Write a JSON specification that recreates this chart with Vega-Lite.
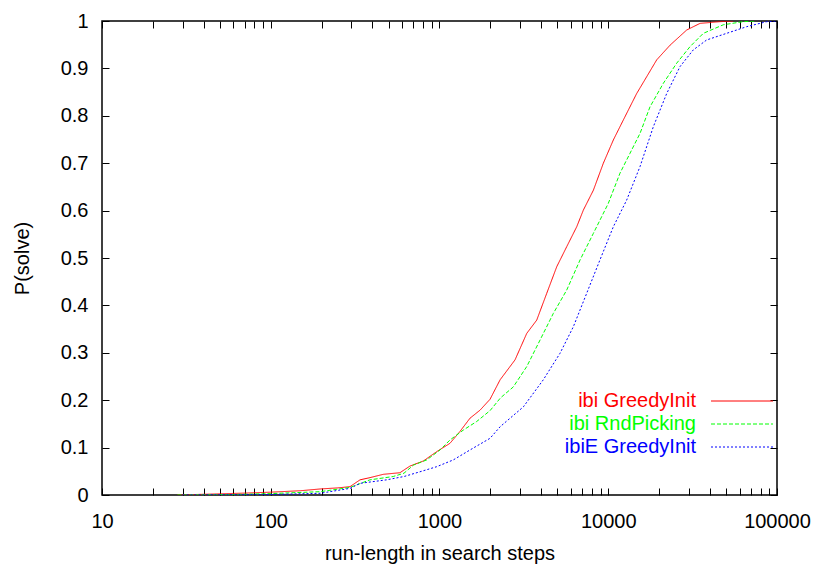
{
  "$schema": "https://vega.github.io/schema/vega-lite/v6.json",
  "width": 675,
  "height": 474,
  "autosize": "none",
  "padding": {"left": 102, "top": 21, "right": 42, "bottom": 72},
  "background": "white",
  "config": {
    "font": "Liberation Sans",
    "view": {"stroke": "#000", "strokeWidth": 1.5},
    "axis": {"labelColor": "#000", "titleColor": "#000", "tickColor": "#000", "grid": false, "domain": false, "labelFontSize": 20, "titleFontSize": 20, "titleFontWeight": "normal", "tickWidth": 1}
  },
  "data": {
    "values": [
      {"series": "ibi GreedyInit", "steps": 28, "p": 0},
      {"series": "ibi GreedyInit", "steps": 45, "p": 0.002},
      {"series": "ibi GreedyInit", "steps": 70, "p": 0.004},
      {"series": "ibi GreedyInit", "steps": 100, "p": 0.006},
      {"series": "ibi GreedyInit", "steps": 150, "p": 0.009},
      {"series": "ibi GreedyInit", "steps": 196, "p": 0.0127},
      {"series": "ibi GreedyInit", "steps": 250, "p": 0.015},
      {"series": "ibi GreedyInit", "steps": 295, "p": 0.0176},
      {"series": "ibi GreedyInit", "steps": 338, "p": 0.032},
      {"series": "ibi GreedyInit", "steps": 387, "p": 0.0366},
      {"series": "ibi GreedyInit", "steps": 464, "p": 0.0436},
      {"series": "ibi GreedyInit", "steps": 583, "p": 0.047},
      {"series": "ibi GreedyInit", "steps": 616, "p": 0.0527},
      {"series": "ibi GreedyInit", "steps": 668, "p": 0.061},
      {"series": "ibi GreedyInit", "steps": 802, "p": 0.0717},
      {"series": "ibi GreedyInit", "steps": 962, "p": 0.0914},
      {"series": "ibi GreedyInit", "steps": 1153, "p": 0.109},
      {"series": "ibi GreedyInit", "steps": 1322, "p": 0.134},
      {"series": "ibi GreedyInit", "steps": 1516, "p": 0.162},
      {"series": "ibi GreedyInit", "steps": 1739, "p": 0.179},
      {"series": "ibi GreedyInit", "steps": 1993, "p": 0.202},
      {"series": "ibi GreedyInit", "steps": 2286, "p": 0.243},
      {"series": "ibi GreedyInit", "steps": 2802, "p": 0.285},
      {"series": "ibi GreedyInit", "steps": 3289, "p": 0.341},
      {"series": "ibi GreedyInit", "steps": 3769, "p": 0.369},
      {"series": "ibi GreedyInit", "steps": 4320, "p": 0.4255},
      {"series": "ibi GreedyInit", "steps": 4953, "p": 0.4817},
      {"series": "ibi GreedyInit", "steps": 5676, "p": 0.524},
      {"series": "ibi GreedyInit", "steps": 6506, "p": 0.566},
      {"series": "ibi GreedyInit", "steps": 7119, "p": 0.601},
      {"series": "ibi GreedyInit", "steps": 8163, "p": 0.643},
      {"series": "ibi GreedyInit", "steps": 9353, "p": 0.7},
      {"series": "ibi GreedyInit", "steps": 10720, "p": 0.749},
      {"series": "ibi GreedyInit", "steps": 12280, "p": 0.791},
      {"series": "ibi GreedyInit", "steps": 14740, "p": 0.847},
      {"series": "ibi GreedyInit", "steps": 19370, "p": 0.918},
      {"series": "ibi GreedyInit", "steps": 23240, "p": 0.949},
      {"series": "ibi GreedyInit", "steps": 29170, "p": 0.981},
      {"series": "ibi GreedyInit", "steps": 35000, "p": 0.995},
      {"series": "ibi GreedyInit", "steps": 45950, "p": 0.9986},
      {"series": "ibi GreedyInit", "steps": 55000, "p": 1},
      {"series": "ibi RndPicking", "steps": 28, "p": 0},
      {"series": "ibi RndPicking", "steps": 60, "p": 0.001},
      {"series": "ibi RndPicking", "steps": 100, "p": 0.003},
      {"series": "ibi RndPicking", "steps": 196, "p": 0.007},
      {"series": "ibi RndPicking", "steps": 295, "p": 0.016},
      {"series": "ibi RndPicking", "steps": 387, "p": 0.032},
      {"series": "ibi RndPicking", "steps": 532, "p": 0.039},
      {"series": "ibi RndPicking", "steps": 616, "p": 0.046},
      {"series": "ibi RndPicking", "steps": 700, "p": 0.063},
      {"series": "ibi RndPicking", "steps": 840, "p": 0.074},
      {"series": "ibi RndPicking", "steps": 1007, "p": 0.095},
      {"series": "ibi RndPicking", "steps": 1153, "p": 0.116},
      {"series": "ibi RndPicking", "steps": 1384, "p": 0.137},
      {"series": "ibi RndPicking", "steps": 1660, "p": 0.155},
      {"series": "ibi RndPicking", "steps": 1993, "p": 0.178},
      {"series": "ibi RndPicking", "steps": 2300, "p": 0.205},
      {"series": "ibi RndPicking", "steps": 2737, "p": 0.228},
      {"series": "ibi RndPicking", "steps": 3289, "p": 0.271},
      {"series": "ibi RndPicking", "steps": 3944, "p": 0.327},
      {"series": "ibi RndPicking", "steps": 4725, "p": 0.383},
      {"series": "ibi RndPicking", "steps": 5676, "p": 0.4325},
      {"series": "ibi RndPicking", "steps": 6808, "p": 0.496},
      {"series": "ibi RndPicking", "steps": 8163, "p": 0.552},
      {"series": "ibi RndPicking", "steps": 10000, "p": 0.615},
      {"series": "ibi RndPicking", "steps": 11740, "p": 0.679},
      {"series": "ibi RndPicking", "steps": 13460, "p": 0.721},
      {"series": "ibi RndPicking", "steps": 15430, "p": 0.763},
      {"series": "ibi RndPicking", "steps": 17680, "p": 0.819},
      {"series": "ibi RndPicking", "steps": 21200, "p": 0.8685},
      {"series": "ibi RndPicking", "steps": 25450, "p": 0.911},
      {"series": "ibi RndPicking", "steps": 30530, "p": 0.946},
      {"series": "ibi RndPicking", "steps": 36600, "p": 0.974},
      {"series": "ibi RndPicking", "steps": 48050, "p": 0.992},
      {"series": "ibi RndPicking", "steps": 63000, "p": 0.9986},
      {"series": "ibi RndPicking", "steps": 75000, "p": 1},
      {"series": "ibiE GreedyInit", "steps": 30, "p": 0},
      {"series": "ibiE GreedyInit", "steps": 100, "p": 0.001},
      {"series": "ibiE GreedyInit", "steps": 196, "p": 0.0036},
      {"series": "ibiE GreedyInit", "steps": 295, "p": 0.014},
      {"series": "ibiE GreedyInit", "steps": 338, "p": 0.0246},
      {"series": "ibiE GreedyInit", "steps": 486, "p": 0.032},
      {"series": "ibiE GreedyInit", "steps": 616, "p": 0.039},
      {"series": "ibiE GreedyInit", "steps": 766, "p": 0.049},
      {"series": "ibiE GreedyInit", "steps": 962, "p": 0.0597},
      {"series": "ibiE GreedyInit", "steps": 1207, "p": 0.074},
      {"series": "ibiE GreedyInit", "steps": 1516, "p": 0.095},
      {"series": "ibiE GreedyInit", "steps": 1993, "p": 0.1196},
      {"series": "ibiE GreedyInit", "steps": 2286, "p": 0.144},
      {"series": "ibiE GreedyInit", "steps": 3141, "p": 0.186},
      {"series": "ibiE GreedyInit", "steps": 4121, "p": 0.243},
      {"series": "ibiE GreedyInit", "steps": 5178, "p": 0.299},
      {"series": "ibiE GreedyInit", "steps": 6211, "p": 0.355},
      {"series": "ibiE GreedyInit", "steps": 7450, "p": 0.4255},
      {"series": "ibiE GreedyInit", "steps": 8930, "p": 0.496},
      {"series": "ibiE GreedyInit", "steps": 10720, "p": 0.566},
      {"series": "ibiE GreedyInit", "steps": 12850, "p": 0.622},
      {"series": "ibiE GreedyInit", "steps": 15430, "p": 0.693},
      {"series": "ibiE GreedyInit", "steps": 18500, "p": 0.777},
      {"series": "ibiE GreedyInit", "steps": 22200, "p": 0.847},
      {"series": "ibiE GreedyInit", "steps": 26600, "p": 0.9036},
      {"series": "ibiE GreedyInit", "steps": 31900, "p": 0.939},
      {"series": "ibiE GreedyInit", "steps": 38300, "p": 0.96},
      {"series": "ibiE GreedyInit", "steps": 50300, "p": 0.974},
      {"series": "ibiE GreedyInit", "steps": 66100, "p": 0.988},
      {"series": "ibiE GreedyInit", "steps": 86900, "p": 0.9986},
      {"series": "ibiE GreedyInit", "steps": 100000, "p": 1}
    ]
  },
  "resolve": {"axis": {"x": "independent", "y": "independent"}},
  "layer": [
    {
      "mark": {"type": "line", "strokeWidth": 1, "clip": true},
      "encoding": {
        "x": {
          "field": "steps", "type": "quantitative",
          "scale": {"type": "log", "domain": [10, 100000], "nice": false},
          "axis": {
            "orient": "bottom",
            "values": [10, 20, 30, 40, 50, 60, 70, 80, 90, 100, 200, 300, 400, 500, 600, 700, 800, 900, 1000, 2000, 3000, 4000, 5000, 6000, 7000, 8000, 9000, 10000, 20000, 30000, 40000, 50000, 60000, 70000, 80000, 90000, 100000],
            "labelExpr": "abs(log(datum.value)/LN10 - round(log(datum.value)/LN10)) < 1e-6 ? format(datum.value, 'd') : ''",
            "labelOverlap": false,
            "labelFlush": false,
            "tickSize": -7,
            "labelPadding": 23,
            "title": "run-length in search steps",
            "titlePadding": 12,
            "encode": {"ticks": {"update": {"y2": {"signal": "abs(log(datum.value)/LN10 - round(log(datum.value)/LN10)) < 1e-6 ? -7 : -4"}}}}
          }
        },
        "y": {
          "field": "p", "type": "quantitative",
          "scale": {"domain": [0, 1], "nice": false},
          "axis": {
            "orient": "left",
            "values": [0, 0.1, 0.2, 0.3, 0.4, 0.5, 0.6, 0.7, 0.8, 0.9, 1],
            "format": "~g",
            "tickSize": -7,
            "labelPadding": 21,
            "title": "P(solve)",
            "titlePadding": 28
          }
        },
        "color": {
          "field": "series", "type": "nominal",
          "scale": {"domain": ["ibi GreedyInit", "ibi RndPicking", "ibiE GreedyInit"], "range": ["#ff0000", "#00ff00", "#0000ff"]},
          "legend": {
            "orient": "none", "legendX": 630, "legendY": 370, "title": null,
            "symbolType": "M-31,0H31", "symbolSize": 4, "symbolStrokeWidth": 1,
            "labelAlign": "right", "labelOffset": -56, "labelFontSize": 20, "rowPadding": 3, "padding": 0,
            "encode": {
              "labels": {"update": {"fill": {"scale": "color", "field": "value"}}},
              "symbols": {"update": {"stroke": {"scale": "color", "field": "value"}, "fill": {"value": "transparent"}}}
            }
          }
        },
        "strokeDash": {
          "field": "series", "type": "nominal",
          "scale": {"domain": ["ibi GreedyInit", "ibi RndPicking", "ibiE GreedyInit"], "range": [[1, 0], [4, 2], [2, 2]]},
          "legend": {
            "orient": "none", "legendX": 630, "legendY": 370, "title": null,
            "symbolType": "M-31,0H31", "symbolSize": 4, "symbolStrokeWidth": 1,
            "labelAlign": "right", "labelOffset": -56, "labelFontSize": 20, "rowPadding": 3, "padding": 0,
            "encode": {
              "labels": {"update": {"fill": {"scale": "color", "field": "value"}}},
              "symbols": {"update": {"stroke": {"scale": "color", "field": "value"}, "fill": {"value": "transparent"}}}
            }
          }
        }
      }
    },
    {
      "mark": {"type": "line", "opacity": 0},
      "encoding": {
        "x": {
          "field": "steps", "type": "quantitative",
          "axis": {
            "orient": "top",
            "values": [10, 20, 30, 40, 50, 60, 70, 80, 90, 100, 200, 300, 400, 500, 600, 700, 800, 900, 1000, 2000, 3000, 4000, 5000, 6000, 7000, 8000, 9000, 10000, 20000, 30000, 40000, 50000, 60000, 70000, 80000, 90000, 100000],
            "labels": false,
            "title": null,
            "tickSize": -7,
            "encode": {"ticks": {"update": {"y2": {"signal": "abs(log(datum.value)/LN10 - round(log(datum.value)/LN10)) < 1e-6 ? 7 : 4"}}}}
          }
        },
        "y": {
          "field": "p", "type": "quantitative",
          "axis": {
            "orient": "right",
            "values": [0, 0.1, 0.2, 0.3, 0.4, 0.5, 0.6, 0.7, 0.8, 0.9, 1],
            "labels": false,
            "title": null,
            "tickSize": -7
          }
        },
        "detail": {"field": "series"}
      }
    }
  ]
}
